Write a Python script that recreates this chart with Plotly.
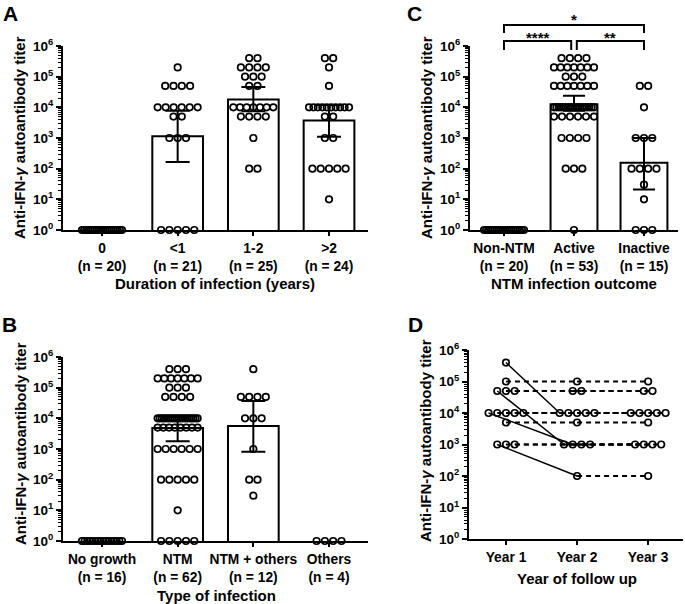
import plotly.graph_objects as go

W, H = 685, 604
FONT = "Liberation Sans, Arial, sans-serif"

# ---------------- Panel A: duration of infection ----------------
a_cats = ["0", "<1", "1-2", ">2"]
a_ns = [20, 21, 25, 24]
a_vals = [
    [1],
    [2e5, 5e4, 1e4, 5e3, 1e3, 1],
    [4e5, 2e5, 1e5, 5e4, 1e4, 5e3, 1e3, 100],
    [4e5, 2e5, 5e4, 1e4, 5e3, 1e3, 100, 10],
]
a_counts = [
    [20],
    [1, 4, 6, 2, 3, 5],
    [2, 4, 3, 2, 7, 4, 1, 2],
    [2, 1, 1, 10, 2, 2, 5, 1],
]
a_gmean = [None, 1150, 1.8e4, 3.7e3]
a_ci_lo = [None, 165, 7.5e3, 1.1e3]
a_ci_hi = [None, 7.7e3, 4.6e4, 1.2e4]

# ---------------- Panel B: type of infection ----------------
b_cats = ["No growth", "NTM", "NTM + others", "Others"]
b_ns = [16, 62, 12, 4]
b_vals = [
    [1],
    [4e5, 2e5, 1e5, 5e4, 1e4, 5e3, 1e3, 100, 10, 1],
    [4e5, 5e4, 1e4, 1e3, 100, 30],
    [1],
]
b_counts = [
    [16],
    [3, 7, 3, 4, 20, 8, 6, 5, 1, 5],
    [1, 4, 3, 1, 2, 1],
    [4],
]
b_gmean = [None, 4.8e3, 5.6e3, None]
b_ci_lo = [None, 1.8e3, 810, None]
b_ci_hi = [None, 1.1e4, 3.7e4, None]

# ---------------- Panel C: NTM infection outcome ----------------
c_cats = ["Non-NTM", "Active", "Inactive"]
c_ns = [20, 53, 15]
c_vals = [
    [1],
    [4e5, 2e5, 1e5, 5e4, 1e4, 5e3, 1e3, 100, 1],
    [5e4, 1e4, 1e3, 100, 30, 10, 1],
]
c_counts = [
    [20],
    [4, 7, 3, 7, 18, 6, 4, 3, 1],
    [2, 1, 3, 4, 1, 1, 3],
]
c_gmean = [None, 1.27e4, 155]
c_ci_lo = [None, 7.7e3, 21]
c_ci_hi = [None, 2.4e4, 1.0e3]
c_compare = [(0, 2, "*"), (0, 1, "****"), (1, 2, "**")]

# ---------------- Panel D: follow-up (one entry per patient) ----------------
d_cats = ["Year 1", "Year 2", "Year 3"]
d_year1 = [4e5, 1e5, 5e4, 5e4, 5e4, 1e4, 1e4, 1e4, 1e4, 1e4, 5e3, 1e3, 1e3, 1e3]
d_year2 = [1e4, 1e5, 1e3, 5e4, 5e4, 1e3, 1e4, 1e4, 1e4, 1e4, 5e3, 100, 1e3, 1e3]
d_year3 = [1e4, 1e5, 1e3, 5e4, 5e4, 1e3, 1e4, 1e4, 1e4, 1e4, 5e3, 100, 1e3, 1e3]

# ---------------- layout geometry (pixels) ----------------
panels = {
    "A": dict(x0=63, x1=368, y0=46, y1=230, xr=(-0.515, 3.515)),
    "B": dict(x0=63, x1=368, y0=357, y1=541, xr=(-0.515, 3.515)),
    "C": dict(x0=470, x1=678, y0=46, y1=230, xr=(-0.486, 2.486)),
    "D": dict(x0=469, x1=683, y0=350, y1=539, xr=(-0.52, 2.49)),
}
axis_ids = {"A": ("x", "y", ""), "B": ("x2", "y2", "2"), "C": ("x3", "y3", "3"), "D": ("x4", "y4", "4")}


def ppu(key):
    p = panels[key]
    return (p["x1"] - p["x0"]) / (p["xr"][1] - p["xr"][0])


def swarm(values, counts, center, px_per_unit, gap=8.3, max_span=40):
    xs, ys = [], []
    for v, n in zip(values, counts):
        sp = gap if n <= 1 else min(gap, max_span / (n - 1))
        for i in range(n):
            xs.append(center + (i - (n - 1) / 2) * sp / px_per_unit)
            ys.append(v)
    return xs, ys


MARKER = dict(symbol="circle-open", size=6.5, color="black", line=dict(width=1.7, color="black"))

fig = go.Figure()


def bar_panel(key, vals, counts, gmean, lo, hi, capw):
    xa, ya, _ = axis_ids[key]
    idx = [i for i, g in enumerate(gmean) if g is not None]
    fig.add_trace(go.Bar(
        x=idx, y=[gmean[i] for i in idx], width=0.67, xaxis=xa, yaxis=ya,
        marker=dict(color="white", line=dict(color="black", width=2)), hoverinfo="skip"))
    xs, ys = [], []
    for i, (v, c) in enumerate(zip(vals, counts)):
        sx, sy = swarm(v, c, i, ppu(key))
        xs += sx
        ys += sy
    fig.add_trace(go.Scatter(x=xs, y=ys, mode="markers", marker=MARKER, xaxis=xa, yaxis=ya, cliponaxis=False))
    fig.add_trace(go.Scatter(
        x=idx, y=[gmean[i] for i in idx], mode="markers", xaxis=xa, yaxis=ya,
        marker=dict(size=1, color="rgba(0,0,0,0)"),
        error_y=dict(type="data", symmetric=False,
                     array=[hi[i] - gmean[i] for i in idx],
                     arrayminus=[gmean[i] - lo[i] for i in idx],
                     thickness=2, width=capw, color="black")))


bar_panel("A", a_vals, a_counts, a_gmean, a_ci_lo, a_ci_hi, 12)
bar_panel("B", b_vals, b_counts, b_gmean, b_ci_lo, b_ci_hi, 12)
bar_panel("C", c_vals, c_counts, c_gmean, c_ci_lo, c_ci_hi, 11)

# Panel D: positions of each patient within its row
years = [d_year1, d_year2, d_year3]
d_ppu = ppu("D")
d_pos = []
for yi, yr in enumerate(years):
    pos = [None] * len(yr)
    levels = []
    for v in yr:
        if v not in levels:
            levels.append(v)
    for v in levels:
        members = [k for k, vv in enumerate(yr) if vv == v]
        n = len(members)
        for j, k in enumerate(members):
            pos[k] = yi + (j - (n - 1) / 2) * 8.7 / d_ppu
    d_pos.append(pos)

for k in range(len(d_year1)):
    for yi in range(2):
        v0, v1 = years[yi][k], years[yi + 1][k]
        same = v0 == v1
        fig.add_trace(go.Scatter(
            x=[d_pos[yi][k], d_pos[yi + 1][k]], y=[v0, v1], mode="lines",
            line=dict(color="black", width=1.8 if same else 1.5, dash="5px,4px" if same else "solid"),
            xaxis="x4", yaxis="y4", hoverinfo="skip"))
for yi in range(3):
    fig.add_trace(go.Scatter(x=d_pos[yi], y=years[yi], mode="markers", marker=MARKER,
                             xaxis="x4", yaxis="y4", cliponaxis=False))

# ---------------- axes ----------------
ytickvals = [10 ** k for k in range(7)]
yticktext = ["10<sup>%d</sup>" % k for k in range(7)]
minor_vals = [m * 10 ** k for k in range(6) for m in range(2, 10)]
ytickfont = dict(family=FONT, size=13.5, color="black", weight="bold")
xtickfont = dict(family=FONT, size=13.8, color="black", weight="bold")

cat_labels = {
    "A": [f"{c}<br>(n = {n})" for c, n in zip(a_cats, a_ns)],
    "B": [f"{c}<br>(n = {n})" for c, n in zip(b_cats, b_ns)],
    "C": [f"{c}<br>(n = {n})" for c, n in zip(c_cats, c_ns)],
    "D": d_cats,
}

layout = dict(
    width=W, height=H, margin=dict(l=0, r=0, t=0, b=0, pad=0, autoexpand=False),
    paper_bgcolor="white", plot_bgcolor="white", showlegend=False,
    font=dict(family=FONT, color="black"),
)
for key, p in panels.items():
    xa, ya, sfx = axis_ids[key]
    ncat = len(cat_labels[key])
    layout["xaxis" + sfx] = dict(
        domain=[p["x0"] / W, p["x1"] / W], range=list(p["xr"]), anchor=ya, automargin=False,
        tickvals=list(range(ncat)), ticktext=cat_labels[key], tickfont=xtickfont,
        showline=True, linewidth=2, linecolor="black", ticks="outside", ticklen=4,
        tickwidth=1.5, tickcolor="black", showgrid=False, zeroline=False, fixedrange=True)
    layout["yaxis" + sfx] = dict(
        domain=[1 - p["y1"] / H, 1 - p["y0"] / H], type="log", range=[0, 6], anchor=xa,
        automargin=False,
        tickvals=ytickvals, ticktext=yticktext, tickfont=ytickfont,
        showline=True, linewidth=2, linecolor="black", ticks="outside", ticklen=5,
        tickwidth=2, tickcolor="black", showgrid=False, zeroline=False,
        minor=dict(tickvals=minor_vals, ticks="outside", ticklen=3, tickwidth=1,
                   tickcolor="black", showgrid=False))

ann = []
ytitle = "Anti-IFN-<i>γ</i> autoantibody titer"
for (xp, yp) in [(20, 138), (20, 444), (427, 138), (425, 441)]:
    ann.append(dict(text=ytitle, x=xp / W, y=1 - yp / H, xref="paper", yref="paper",
                    textangle=-90, showarrow=False, xanchor="center", yanchor="middle",
                    font=dict(family=FONT, size=15, color="black", weight="bold")))
for txt, xp, yp in [("Duration of infection (years)", 215, 283), ("Type of infection", 216, 595),
                    ("NTM infection outcome", 574, 283), ("Year of follow up", 577, 578)]:
    ann.append(dict(text=txt, x=xp / W, y=1 - yp / H, xref="paper", yref="paper",
                    showarrow=False, xanchor="center", yanchor="middle",
                    font=dict(family=FONT, size=15, color="black", weight="bold")))
for txt, xp, yp in [("A", 10, 13), ("B", 9, 324), ("C", 414, 13), ("D", 415, 324)]:
    ann.append(dict(text=txt, x=xp / W, y=1 - yp / H, xref="paper", yref="paper",
                    showarrow=False, xanchor="center", yanchor="middle",
                    font=dict(family=FONT, size=21, color="black", weight="bold")))

# significance brackets on panel C
shapes = []
bracket_rows = {(0, 2): (25, 33), (0, 1): (41, 50), (1, 2): (41, 50)}
for (i, j, star) in c_compare:
    ytop, ybot = bracket_rows[(i, j)]
    xl = i + (0.04 if i == 1 else 0)
    xr = j - (0.04 if (i, j) == (0, 1) else 0)
    yt, yb = 1 - ytop / H, 1 - ybot / H
    shapes.append(dict(type="path", xref="x3", yref="paper",
                       path=f"M {xl},{yb} L {xl},{yt} L {xr},{yt} L {xr},{yb}",
                       line=dict(color="black", width=2)))
    ann.append(dict(text=star, x=(xl + xr) / 2, y=yt, xref="x3", yref="paper",
                    showarrow=False, xanchor="center", yanchor="bottom",
                    yshift=-5 if (i, j) == (0, 2) else -7,
                    font=dict(family=FONT, size=15, color="black", weight="bold")))

layout["annotations"] = ann
layout["shapes"] = shapes
fig.update_layout(**layout)
fig.write_html("out.html", config={"displayModeBar": False},
               post_script="document.body.style.margin='0';document.body.style.overflow='hidden';")
